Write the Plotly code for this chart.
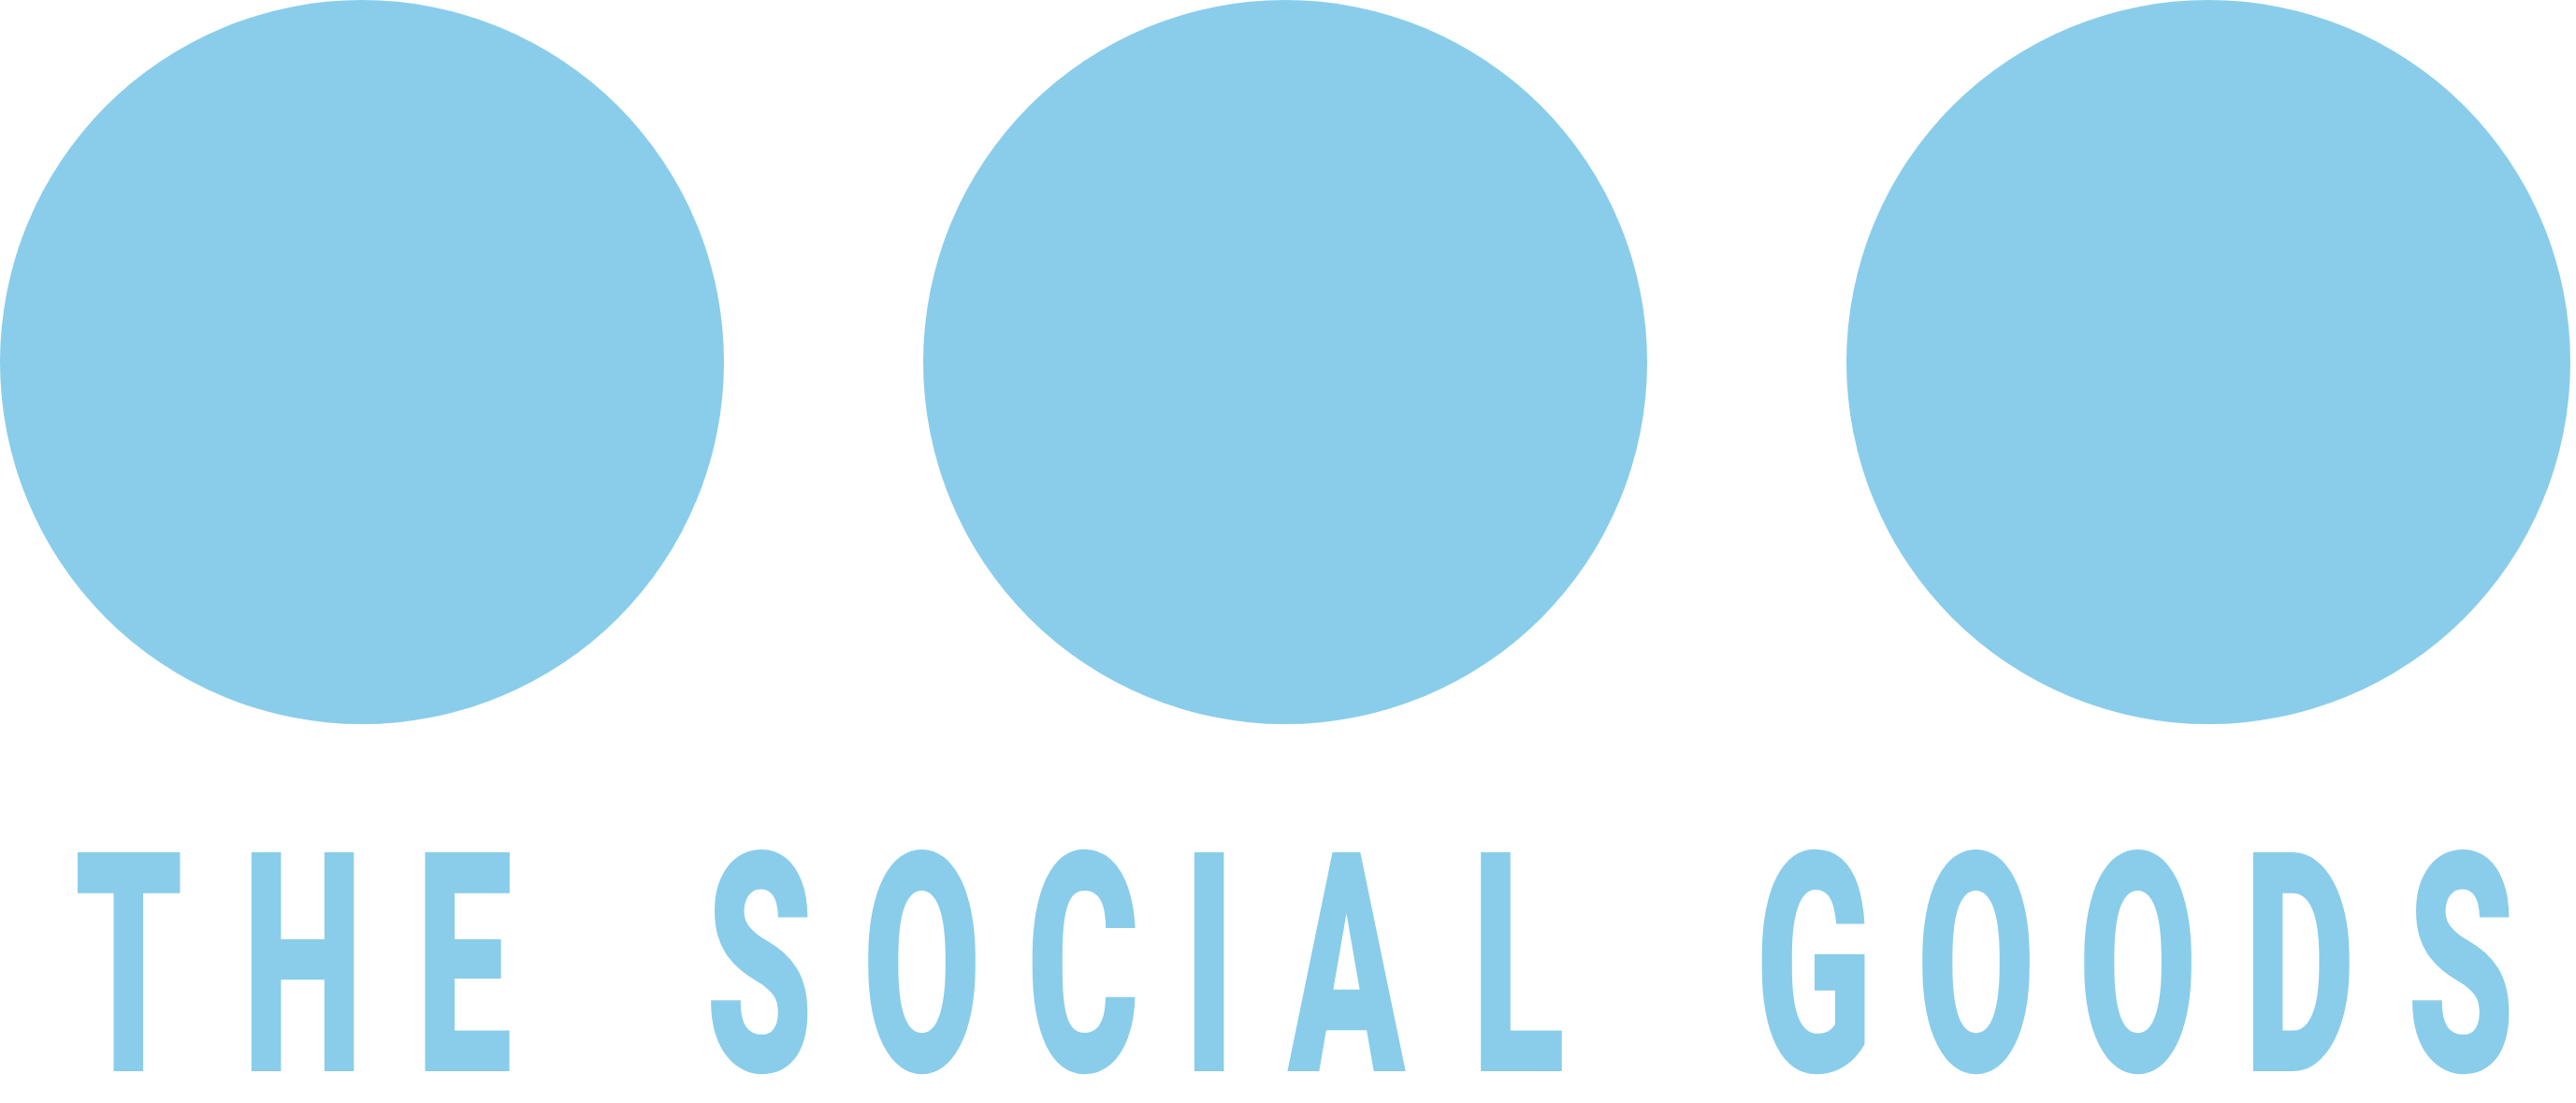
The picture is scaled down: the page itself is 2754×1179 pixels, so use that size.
import plotly.graph_objects as go

# logo: three dots above the wordmark
dots = ["left", "middle", "right"]
words = ["THE", "SOCIAL", "GOODS"]

W, H = 2754, 1179
BLUE = "#89cdeb"

DOT_D = 774
DOT_STEP = 987

TEXT_LEFT = 72
TEXT_MID = 1032
LETTER_GAP = 65
WORD_GAP = 208
SQUEEZE = 0.56


def letter_width(ch):
    # rough ink width of each letter in the condensed wordmark
    if ch == "I":
        return 30
    if ch in "TA":
        return 132
    return 108


fig = go.Figure()

for i, d in enumerate(dots):
    cx = DOT_D / 2 + i * DOT_STEP
    fig.add_shape(type="circle", xref="x", yref="y",
                  x0=cx - DOT_D / 2, x1=cx + DOT_D / 2, y0=0, y1=DOT_D,
                  fillcolor=BLUE, line_width=0, layer="below")

x = TEXT_LEFT
for wi, word in enumerate(words):
    if wi > 0:
        x += WORD_GAP - LETTER_GAP
    for ch in word:
        w = letter_width(ch)
        fig.add_annotation(x=x + w / 2, y=TEXT_MID, xref="x", yref="y",
                           text=ch, showarrow=False,
                           xanchor="center", yanchor="middle",
                           font=dict(family="Roboto", size=329, color=BLUE, weight=900))
        x += w + LETTER_GAP

fig.update_xaxes(range=[0, W], visible=False, fixedrange=True)
fig.update_yaxes(range=[H, 0], visible=False, fixedrange=True)
fig.update_layout(width=W, height=H, margin=dict(l=0, r=0, t=0, b=0),
                  paper_bgcolor="white", plot_bgcolor="white",
                  showlegend=False, hovermode=False)

# squeeze the letters sideways so they look like the condensed logo type
squeeze_js = """
document.body.style.margin = '0';
document.body.style.overflow = 'hidden';
var st = document.createElement('style');
st.innerHTML = '.annotation-text{transform-box:fill-box;transform-origin:center;transform:scaleX(%s);}';
document.head.appendChild(st);
""" % SQUEEZE

fig.write_html("out.html", post_script=squeeze_js, config={"displayModeBar": False})
